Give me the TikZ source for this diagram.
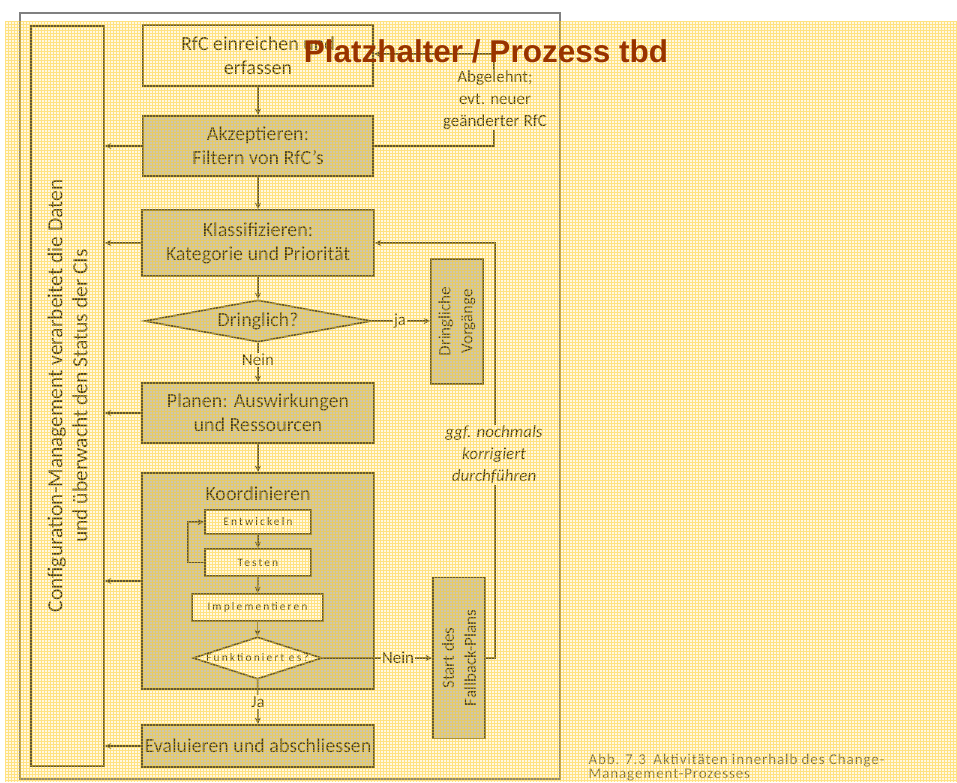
\documentclass[tikz,border=0pt]{standalone}
\usepackage{fontspec}
\setmainfont{Carlito}
\newfontfamily\titlefont{Liberation Sans}
\usetikzlibrary{arrows.meta, shapes.geometric}
\definecolor{linegray}{HTML}{44423C}
\definecolor{boxline}{HTML}{4A473E}
\definecolor{boxfill}{HTML}{C8C7C2}
\definecolor{textgray}{HTML}{262626}
\definecolor{hatch}{RGB}{255,205,30}
\definecolor{titlered}{HTML}{993300}
\newcommand\bigfont{\fontsize{20}{24}\selectfont}
\newcommand\labelfont{\fontsize{17}{22}\selectfont}
\newcommand\smallfont{\fontsize{11.5}{13}\selectfont\addfontfeature{LetterSpace=18}}
\tikzstyle{graybox}=[rectangle, draw=boxline, line width=1.7pt, fill=boxfill, text=textgray, inner sep=0pt, align=center, font=\bigfont]
\tikzstyle{whitebox}=[graybox, fill=white]
\tikzstyle{smallbox}=[whitebox, font=\smallfont]
\tikzstyle{decision}=[diamond, draw=boxline, line width=1.7pt, fill=boxfill, text=textgray, inner sep=0pt, aspect=5, font=\bigfont]
\tikzstyle{arr}=[draw=linegray, line width=1.5pt, -{Stealth[length=6.5pt,width=6pt]}]
\tikzstyle{lbl}=[fill=white, inner sep=1pt, text=textgray, font=\labelfont, align=center]

\begin{document}
\begin{tikzpicture}[x=1pt, y=-1pt]
    \useasboundingbox (0,0) rectangle (957,782);
    \fill[white] (0,0) rectangle (957,782);
    \draw[gray, line width=2pt] (20,13) rectangle (560,779);
    \node[whitebox, rotate=90, font=\fontsize{21.5}{25}\selectfont, minimum width=740, minimum height=73] (cm) at (67.5,396)
        {Configuration-Management verarbeitet die Daten\\und überwacht den Status der CIs};
    \node[whitebox, minimum width=230, minimum height=61] (rfc) at (258,55.5) {RfC einreichen und\\erfassen};
    \node[graybox, minimum width=230, minimum height=60] (akz) at (258,146) {Akzeptieren:\\Filtern von RfC's};
    \node[graybox, minimum width=232, minimum height=66] (kla) at (258,243) {Klassifizieren:\\Kategorie und Priorität};
    \node[decision, minimum width=227, minimum height=42] (dri) at (258,321) {Dringlich?};
    \node[graybox, minimum width=232, minimum height=60] (pla) at (258,413) {Planen: Auswirkungen\\und Ressourcen};
    \node[graybox, minimum width=232, minimum height=216] (koo) at (258,581) {};
    \node[text=textgray, font=\bigfont] (kootitle) at (258,494) {Koordinieren};
    \node[smallbox, minimum width=106, minimum height=24] (ent) at (258,522) {Entwickeln};
    \node[smallbox, minimum width=106, minimum height=27] (tes) at (258,562.5) {Testen};
    \node[smallbox, minimum width=131, minimum height=27] (imp) at (257.5,607.5) {Implementieren};
    \node[decision, fill=white, aspect=3, font=\smallfont, minimum width=129, minimum height=40] (funk) at (257.5,658) {Funktioniert es?};
    \node[graybox, minimum width=232, minimum height=42] (eva) at (258,746) {Evaluieren und abschliessen};
    \node[graybox, rotate=90, font=\labelfont, minimum width=125, minimum height=52] (drv) at (457,321.5) {Dringliche\\Vorgänge};
    \node[graybox, rotate=90, font=\labelfont, minimum width=161, minimum height=52] (fal) at (459,658) {Start des\\Fallback-Plans};
    % Hauptfluss
    \draw[arr] (rfc) -- (akz);
    \draw[arr] (akz) -- (kla);
    \draw[arr] (kla) -- (dri);
    \draw[arr] (dri) -- (pla);
    \draw[arr] (pla) -- (koo);
    \draw[arr] (ent) -- (tes);
    \draw[arr] (tes) -- (imp);
    \draw[arr] (imp) -- (funk);
    \draw[arr] (funk) -- (eva);
    \draw[arr] (tes.west) -- ++(-16,0) |- (ent.west);
    \draw[arr] (dri.east) -- (drv.north |- dri.east);
    \draw[arr] (funk.east) -- (fal.north |- funk.east);
    % Meldungen an das Configuration-Management
    \foreach \b in {akz, kla, pla, koo, eva}
        \draw[arr] (\b.west) -- (\b.west -| cm.south);
    % Rueckwege
    \coordinate (rej1) at (494,146);
    \coordinate (rej2) at (494,54);
    \draw[arr] (akz.east) -- (rej1) -- (rej2) -- (rej2 -| rfc.east);
    \draw[arr] (fal.south) -- ++(9,0) |- (kla.east);
    \node[lbl] (abgl) at (495,100) {Abgelehnt;\\evt. neuer\\geänderter RfC};
    \node[lbl, font=\labelfont\itshape] (korr) at (494,455) {ggf. nochmals\\korrigiert\\durchführen};
    \node[lbl] (nein1) at (258,360) {Nein};
    \node[lbl] (ja1) at (400,321) {ja};
    \node[lbl] (nein2) at (398,658) {Nein};
    \node[lbl] (ja2) at (258,702) {Ja};
    \node[anchor=north west, align=left, text=textgray!75, font=\fontsize{15}{14}\selectfont\addfontfeature{LetterSpace=6}] (caption) at (585,751)
        {Abb. 7.3\enspace Aktivitäten innerhalb des Change-\\Management-Prozesses};
    % Raster
    \fill[hatch, opacity=0.12] (5,21) rectangle (957,782);
    \draw[hatch, line width=0.9pt, opacity=0.5]
        \foreach \gx in {5,8,...,956} {(\gx,21) -- (\gx,782)}
        \foreach \gy in {21,24,...,781} {(5,\gy) -- (957,\gy)};
    \node[text=titlered, font=\titlefont\bfseries\fontsize{31.5}{34}\selectfont] (title) at (486,51) {Platzhalter / Prozess tbd};
\end{tikzpicture}
\end{document}
